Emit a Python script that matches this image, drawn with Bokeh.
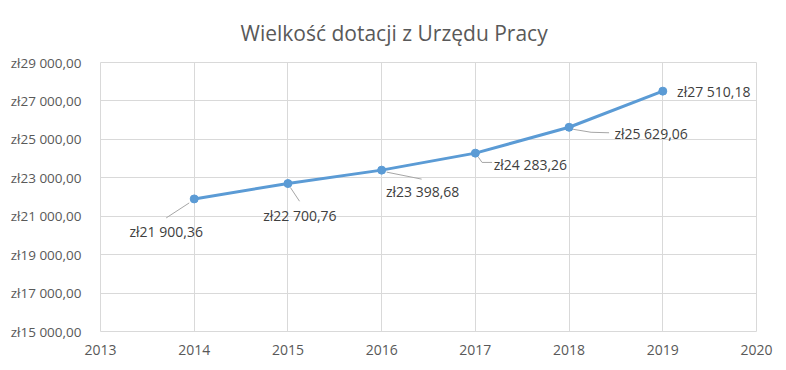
from bokeh.plotting import figure
from bokeh.models import Range1d, FixedTicker, ColumnDataSource
from bokeh.core.properties import value
from bokeh.embed import file_html
from bokeh.resources import INLINE

# ---- data ----
years = [2014, 2015, 2016, 2017, 2018, 2019]
amounts = [21900.36, 22700.76, 23398.68, 24283.26, 25629.06, 27510.18]
x_ticks = [2013, 2014, 2015, 2016, 2017, 2018, 2019, 2020]
y_ticks = [15000, 17000, 19000, 21000, 23000, 25000, 27000, 29000]
title_text = "Wielkość dotacji z Urzędu Pracy"


def fmt_pln(v):
    s = f"{v:,.2f}".replace(",", " ").replace(".", ",")
    return "zł" + s


# ---- layout / style ----
W, H = 778, 362
FL, FR, FT, FB = 100, 22, 62, 31
frame_w = W - FL - FR
frame_h = H - FT - FB
x0, x1 = x_ticks[0], x_ticks[-1]
y0, y1 = y_ticks[0], y_ticks[-1]
px_x = frame_w / (x1 - x0)
px_y = frame_h / (y1 - y0)

# label offsets in screen px (dx right, dy down) relative to each point
label_off = [(-28, 33), (12, 32), (41, 21), (55, 11), (82, 6), (51, 0)]
# leader line offsets in screen px
leader_off = [
    [(-5, 4), (-28, 19)],
    [(2.5, 4), (11.6, 17.7)],
    [(5, 2), (40, 9)],
    [(3, 4), (6.7, 9.3), (16.7, 9.3)],
    [(4, 2), (22, 5), (40, 5.5)],
    [],
]

blue = "#5B9BD5"
grid = "#D9D9D9"
FONT = "Open Sans"

p = figure(width=W, height=H, output_backend="svg", toolbar_location=None,
           x_range=Range1d(x0, x1), y_range=Range1d(y0, y1),
           min_border_left=FL, min_border_right=FR, min_border_top=FT,
           min_border_bottom=FB)

p.title.text = title_text
p.title.align = "left"
p.title.text_font = FONT
p.title.text_font_style = "normal"
p.title.text_font_size = "21px"
p.title.text_color = "#595959"
p.title.offset = 140
p.title.standoff = 32

p.outline_line_color = grid
p.background_fill_color = "white"
p.border_fill_color = "white"

p.xaxis.ticker = FixedTicker(ticks=x_ticks)
p.yaxis.ticker = FixedTicker(ticks=y_ticks)
p.yaxis.major_label_overrides = {t: fmt_pln(t) for t in y_ticks}
p.xaxis.major_label_overrides = {t: str(t) for t in x_ticks}
for ax in (p.xaxis[0], p.yaxis[0]):
    ax.axis_line_color = None
    ax.major_tick_line_color = None
    ax.minor_tick_line_color = None
    ax.major_label_text_font = FONT
    ax.major_label_text_color = "#595959"
p.yaxis.major_label_text_font_size = "13.5px"
p.xaxis.major_label_text_font_size = "14px"
p.yaxis.major_label_standoff = 13
p.xaxis.major_label_standoff = 7

p.xgrid.grid_line_color = grid
p.ygrid.grid_line_color = grid

# leader lines
xs, ys = [], []
for yr, amt, offs in zip(years, amounts, leader_off):
    if not offs:
        continue
    xs.append([yr + dx / px_x for dx, dy in offs])
    ys.append([amt - dy / px_y for dx, dy in offs])
p.multi_line(xs, ys, line_color="#A6A6A6", line_width=1)

src = ColumnDataSource(dict(x=years, y=amounts))
p.line("x", "y", source=src, line_color=blue, line_width=3)
p.scatter("x", "y", source=src, size=8, fill_color=blue, line_color=blue)

lab = ColumnDataSource(dict(
    x=[yr + dx / px_x for yr, (dx, dy) in zip(years, label_off)],
    y=[amt - dy / px_y for amt, (dx, dy) in zip(amounts, label_off)],
    t=[fmt_pln(a) for a in amounts],
))
p.text("x", "y", text="t", source=lab, text_align="center", text_baseline="middle",
       text_font=value(FONT), text_font_size="14px", text_color="#404040")

open("out.html", "w").write(file_html(p, INLINE))
